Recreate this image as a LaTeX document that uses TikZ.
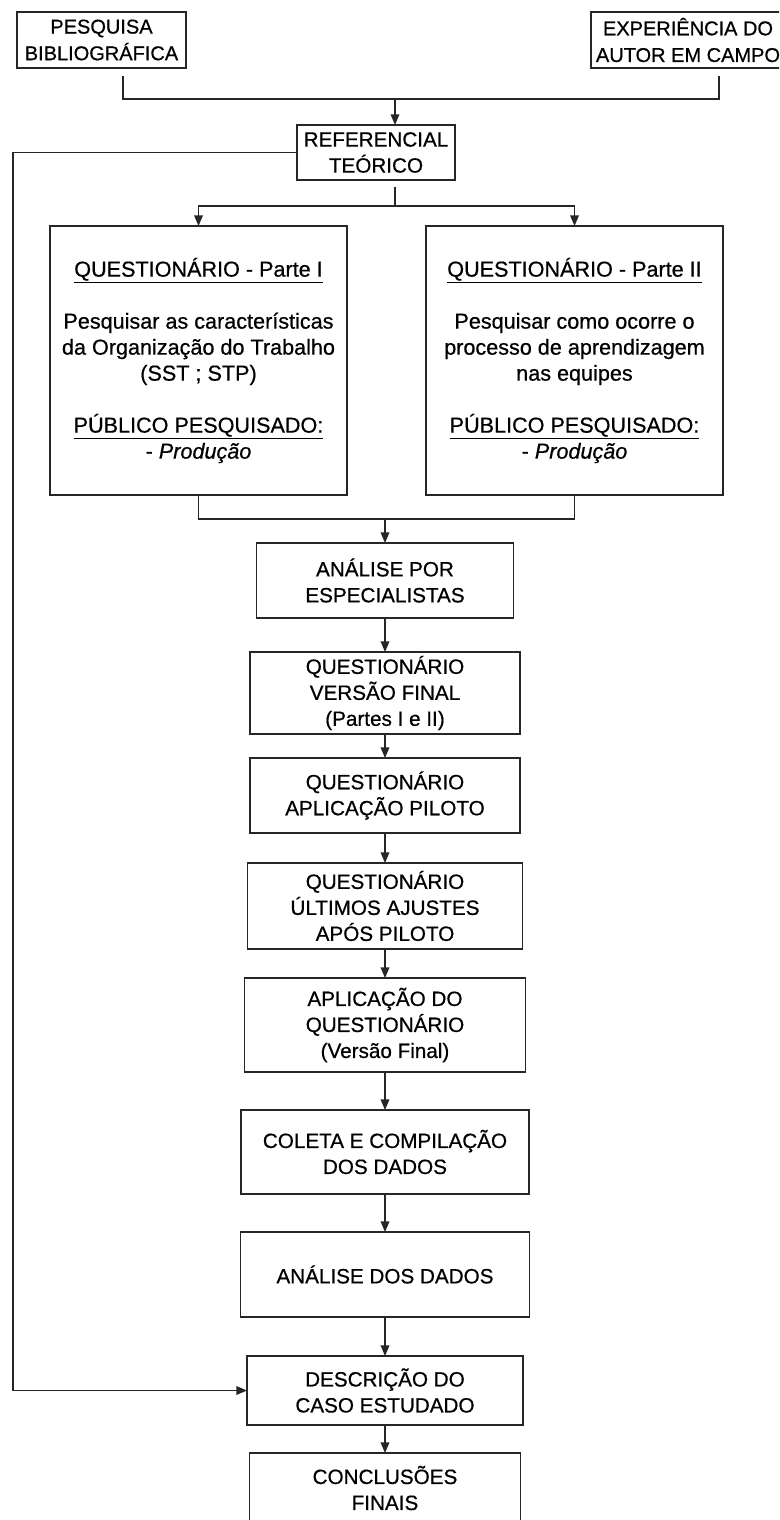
\documentclass[tikz,border=0pt]{standalone}
\usepackage{fontspec}
\setmainfont{Liberation Sans}[FakeBold=0.6]
\usetikzlibrary{calc,arrows.meta}
\begin{document}
\begin{tikzpicture}[x=0.75pt,y=-0.75pt,
    caixa/.style={draw=black!85,line width=1pt,align=center,inner sep=2pt,outer sep=0pt,font=\fontsize{15.5}{19.5}\selectfont},
    quest/.style={caixa,minimum width=222.75pt,minimum height=201.75pt,font=\fontsize{16.2}{19.5}\selectfont},
    linha/.style={draw=black!85,line width=1pt},
    seta/.style={linha,-{Triangle[length=8pt,width=6.5pt]}}]
    \useasboundingbox (0,0) rectangle (779,1520);
    \clip (0,0) rectangle (779,1520);
    \node[caixa,minimum width=126.75pt,minimum height=42pt,font=\fontsize{15}{20}\selectfont] (pesq) at (101.5,40) {PESQUISA\\BIBLIOGRÁFICA};
    \node[caixa,minimum width=145.5pt,minimum height=42pt,font=\fontsize{15}{20}\selectfont] (exp) at (688,40) {EXPERIÊNCIA DO\\AUTOR EM CAMPO};
    \node[caixa,minimum width=118.5pt,minimum height=41.25pt] (ref) at (376,152.5) {REFERENCIAL\\TEÓRICO};
    \node[quest] (q1) at (198.5,360.5) {\underline{QUESTIONÁRIO - Parte I}\\[19.5pt]Pesquisar as características\\da Organização do Trabalho\\(SST ; STP)\\[19.5pt]\underline{PÚBLICO PESQUISADO:}\\- \textit{Produção}};
    \node[quest] (q2) at (574.5,360.5) {\underline{QUESTIONÁRIO - Parte II}\\[19.5pt]Pesquisar como ocorre o\\processo de aprendizagem\\nas equipes\\[19.5pt]\underline{PÚBLICO PESQUISADO:}\\- \textit{Produção}};
    \node[caixa,minimum width=192.75pt,minimum height=56.25pt] (ana1) at (385,580.5) {ANÁLISE POR\\ESPECIALISTAS};
    \node[caixa,minimum width=202.5pt,minimum height=61.5pt] (qvf) at (385,693) {QUESTIONÁRIO\\VERSÃO FINAL\\(Partes I e II)};
    \node[caixa,minimum width=202.5pt,minimum height=56.25pt] (qap) at (385,795.5) {QUESTIONÁRIO\\APLICAÇÃO PILOTO};
    \node[caixa,minimum width=206.25pt,minimum height=64.5pt] (qua) at (385,906) {QUESTIONÁRIO\\ÚLTIMOS AJUSTES\\APÓS PILOTO};
    \node[caixa,minimum width=210.75pt,minimum height=70.5pt] (apq) at (385,1025) {APLICAÇÃO DO\\QUESTIONÁRIO\\(Versão Final)};
    \node[caixa,minimum width=216pt,minimum height=63pt] (col) at (385,1152) {COLETA E COMPILAÇÃO\\DOS DADOS};
    \node[caixa,minimum width=216.75pt,minimum height=63.75pt] (ana2) at (385,1274.5) {ANÁLISE DOS DADOS};
    \node[caixa,minimum width=207pt,minimum height=51.75pt] (desc) at (385,1390.5) {DESCRIÇÃO DO\\CASO ESTUDADO};
    \node[caixa,minimum width=203.25pt,minimum height=52.5pt] (conc) at (385,1488) {CONCLUSÕES\\FINAIS};
    \coordinate (pa) at (123,76);
    \coordinate (ea) at (719,76);
    \coordinate (jt) at (395,99);
    \draw[linha] (pa) -- (pa |- jt) -- (ea |- jt) -- (ea);
    \draw[seta] (jt) -- (jt |- ref.north);
    \coordinate (lf) at (13,0);
    \draw[seta] (ref.west) -- (ref.west -| lf) |- (desc.west);
    \coordinate (rb) at (395,187);
    \coordinate (sp) at (395,206);
    \draw[linha] (rb) -- (sp);
    \draw[seta] (sp) -| (q1.north);
    \draw[seta] (sp) -| (q2.north);
    \coordinate (mj) at (385,519);
    \draw[linha] (q1.south) |- (mj) -| (q2.south);
    \draw[seta] (mj) -- (mj |- ana1.north);
    \foreach \a/\b in {ana1/qvf,qvf/qap,qap/qua,qua/apq,apq/col,col/ana2,ana2/desc,desc/conc}
        \draw[seta] (\a.south) -- (\a.south |- \b.north);
\end{tikzpicture}
\end{document}
